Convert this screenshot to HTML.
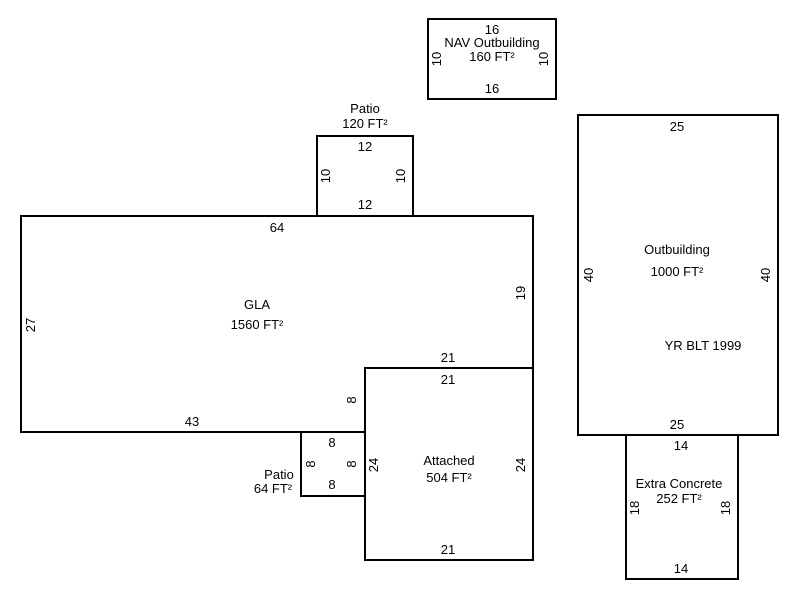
<!DOCTYPE html>
<html><head><meta charset="utf-8"><style>body{margin:0;background:#fff}svg{display:block}text{font-family:"Liberation Sans",Arial,sans-serif;font-size:13px;fill:#000}</style></head><body>
<svg width="800" height="600" xmlns="http://www.w3.org/2000/svg">
<g fill="none" stroke="#000" stroke-width="2">
<rect x="428" y="19" width="128" height="80"/>
<rect x="317" y="136" width="96" height="80"/>
<polyline points="365,432 21,432 21,216 533,216 533,368"/>
<rect x="365" y="368" width="168" height="192"/>
<rect x="301" y="432" width="64" height="64"/>
<rect x="578" y="115" width="200" height="320"/>
<rect x="626" y="435" width="112" height="144"/>
</g>
<g text-anchor="middle">
<text x="492" y="34">16</text>
<text x="492" y="47">NAV Outbuilding</text>
<text x="492" y="61">160 FT²</text>
<text x="492" y="93">16</text>
<text transform="translate(441,59) rotate(-90)">10</text>
<text transform="translate(548,59) rotate(-90)">10</text>
<text x="365" y="113">Patio</text>
<text x="365" y="128">120 FT²</text>
<text x="365" y="151">12</text>
<text x="365" y="209">12</text>
<text transform="translate(330,176) rotate(-90)">10</text>
<text transform="translate(405,176) rotate(-90)">10</text>
<text x="277" y="232">64</text>
<text x="257" y="309">GLA</text>
<text x="257" y="329">1560 FT²</text>
<text transform="translate(35,325) rotate(-90)">27</text>
<text transform="translate(525,293) rotate(-90)">19</text>
<text x="448" y="362">21</text>
<text x="448" y="384">21</text>
<text x="192" y="426">43</text>
<text transform="translate(356,400) rotate(-90)">8</text>
<text x="332" y="447">8</text>
<text x="332" y="489">8</text>
<text transform="translate(315,464) rotate(-90)">8</text>
<text transform="translate(356,464) rotate(-90)">8</text>
<text x="279" y="479">Patio</text>
<text x="273" y="493">64 FT²</text>
<text transform="translate(378,465) rotate(-90)">24</text>
<text transform="translate(525,465) rotate(-90)">24</text>
<text x="449" y="465">Attached</text>
<text x="449" y="482">504 FT²</text>
<text x="448" y="554">21</text>
<text x="677" y="131">25</text>
<text x="677" y="254">Outbuilding</text>
<text x="677" y="276">1000 FT²</text>
<text x="703" y="350">YR BLT 1999</text>
<text x="677" y="429">25</text>
<text transform="translate(593,275) rotate(-90)">40</text>
<text transform="translate(770,275) rotate(-90)">40</text>
<text x="681" y="450">14</text>
<text x="679" y="488">Extra Concrete</text>
<text x="679" y="503">252 FT²</text>
<text transform="translate(639,508) rotate(-90)">18</text>
<text transform="translate(730,508) rotate(-90)">18</text>
<text x="681" y="573">14</text>
</g>
</svg>
</body></html>
